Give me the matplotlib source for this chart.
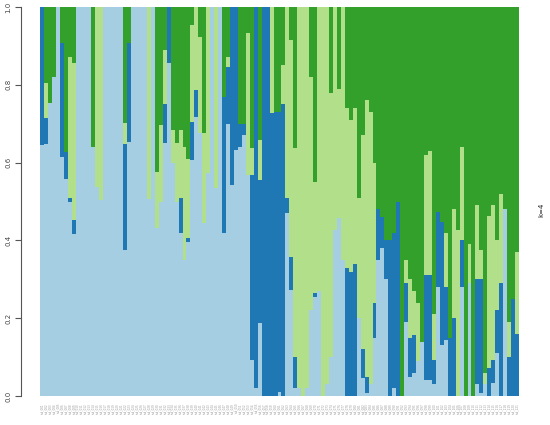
import matplotlib
matplotlib.use("Agg")
import matplotlib.pyplot as plt
import numpy as np

# ancestry proportions per individual (bottom to top): cluster1..cluster4
light_blue = [.645,.648,.752,.819,1,.615,.558,.498,.416,1,1,1,1,.641,.538,.504,1,1,1,1,1,
              .375,.654,1,1,1,1,.506,1,.431,.500,.650,.856,.600,.500,.420,.350,.396,.607,.717,
              .676,.445,.573,1,.535,1,.419,.700,.542,.632,.640,.670,.568,.093,.020,.188,0,0,0,0,
              .010,0,.470,.272,.020,.020,0,.020,.220,.255,.270,0,.030,.100,.427,.457,.350,0,0,0,
              .200,.046,.008,.030,.150,.350,.380,.300,0,.020,0,0,.190,.050,.060,.090,.140,.040,.040,.030,
              .280,.130,.144,0,0,0,.280,0,.290,0,.030,.007,.030,0,.033,.110,0,.480,0,0,0]
dark_blue = [.355,.066,0,0,0,.292,.070,.010,.036,0,0,0,0,0,0,0,0,0,0,0,0,
             .273,.253,0,0,0,0,0,0,0,0,.100,.144,0,0,.090,0,.010,.097,.070,
             0,0,0,0,0,0,.350,.146,.458,.368,.060,.030,0,.475,.980,.367,1,1,.727,.730,
             .720,.750,.040,.085,.080,0,0,0,0,.010,0,0,0,0,0,0,0,.330,.320,.340,
             0,.074,.042,0,.090,.130,.080,.100,.400,.400,.500,0,.100,.100,.097,0,0,.270,.270,.063,
             .194,.318,.136,.148,.200,0,.120,0,0,0,.270,.293,0,.071,.060,.110,.290,0,.100,.250,.160]
light_green = [0,.090,0,0,0,0,0,.363,.405,0,0,0,0,0,.462,.496,0,0,0,0,0,
               .053,0,0,0,0,0,.494,0,.146,.197,.140,0,.084,.150,.174,.290,.204,.250,.213,
               .247,.231,.427,0,.465,0,0,.026,0,0,0,0,.365,.069,0,.103,0,0,.273,0,
               0,.100,.490,.558,.537,.980,1,.980,.600,.285,.730,1,.970,.680,.573,.333,.650,.410,.390,.400,
               .310,.550,.710,.700,.360,0,0,0,0,0,0,0,.060,.150,.113,.150,0,.310,.320,.117,
               0,0,.138,0,.282,.426,.240,0,.102,0,.190,.075,.030,.393,.397,.180,.230,0,.090,0,.210]
green = [0,.196,.248,.181,0,.093,.372,.129,.143,0,0,0,0,.359,0,0,0,0,0,0,0,
         .299,.093,0,0,0,0,0,0,.423,.303,.110,0,.316,.350,.316,.360,.390,.046,0,
         .077,.324,0,0,0,0,.231,.128,0,0,.300,.300,.067,.363,0,.342,0,0,0,.270,
         .270,.150,0,.085,.363,0,0,0,.180,.450,0,0,0,.220,0,.210,0,.260,.290,.260,
         .490,.330,.240,.270,.400,.520,.540,.600,.600,.580,.500,1,.650,.700,.730,.760,.860,.380,.370,.790,
         .526,.552,.582,.852,.518,.574,.360,1,.608,1,.510,.625,.940,.536,.510,.600,.480,.520,.810,.750,.630]

n = len(green)
sample_labels = ["ind_%03d" % (k + 1) for k in range(n)]
colors = ["#A6CEE3", "#1F78B4", "#B2DF8A", "#33A02C"]

fig = plt.figure(figsize=(5.5, 4.25), dpi=100)
ax = fig.add_axes([40/550, 1-396/425, 479/550, 389/425])
x = np.arange(n)
bottom = np.zeros(n)
for vals, c in zip([light_blue, dark_blue, light_green, green], colors):
    v = np.array(vals, dtype=float)
    ax.bar(x, v, bottom=bottom, width=1.0, color=c, linewidth=0, align="center")
    bottom += v

ax.set_xlim(-0.5, n - 0.5)
ax.set_ylim(0, 1)
for s in ["top", "right", "bottom"]:
    ax.spines[s].set_visible(False)
ax.spines["left"].set_position(("outward", 14))
ax.spines["left"].set_bounds(0, 1)
ax.spines["left"].set_color("#555555")
ax.spines["left"].set_linewidth(0.8)
ax.set_yticks([0, 0.2, 0.4, 0.6, 0.8, 1.0])
ax.set_yticklabels(["0.0", "0.2", "0.4", "0.6", "0.8", "1.0"], rotation=90,
                   va="center", fontsize=5, color="#444444")
ax.tick_params(axis="y", length=4, width=0.8, color="#555555", pad=2.5)
ax.set_xticks(x)
ax.set_xticklabels(sample_labels, rotation=90, fontsize=2.0, color="#999999")
ax.tick_params(axis="x", length=0, pad=5)
fig.text(541/550, 1-210/425, "k=4", rotation=90, fontsize=5, ha="center", va="center", color="#222222")

fig.savefig("out.png", dpi=100)
